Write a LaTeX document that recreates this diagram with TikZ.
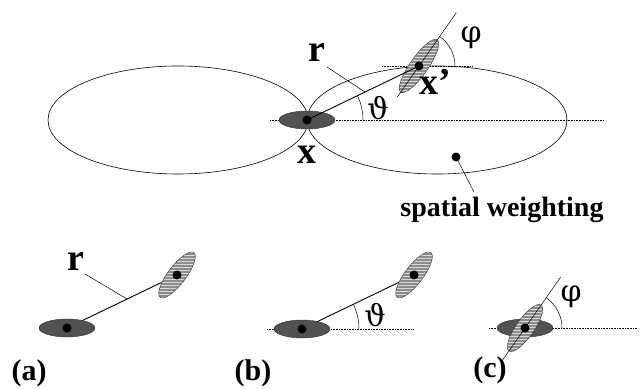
\documentclass[tikz,border=0pt]{standalone}
\usepackage{fontspec}
\setmainfont{Liberation Serif}
\newfontfamily\greekfont{DejaVu Serif}
\usetikzlibrary{patterns,calc}
\tikzset{
	lobe/.style = {draw, line width=0.6pt},
	base/.style = {densely dotted, line width=0.6pt},
	leader/.style = {line width=0.5pt},
	dark/.style = {fill=black!68, draw=black!80, line width=0.4pt},
	hatch/.style = {draw=black!80, line width=0.4pt, preaction={fill=black!45}, pattern=horizontal lines, pattern color=white!85!black},
	lbl/.style = {font=\fontsize{38}{40}\selectfont\bfseries, inner sep=0pt},
	ang/.style = {font=\fontsize{30}{32}\selectfont\greekfont, inner sep=0pt},
	panel/.style = {font=\fontsize{30}{32}\selectfont\bfseries, inner sep=0pt}
}
\newcommand{\blob}[1]{\fill (#1) circle (4.5);}
\begin{document}
\begin{tikzpicture}[x=1pt, y=1pt]
		\useasboundingbox (0,0) rectangle (644,388);
		\coordinate (x) at (307,268);
		\coordinate (xp) at (419,322);
		\coordinate (sw) at (456,231);
		\draw[lobe] (178,268) ellipse (130 and 54);
		\draw[lobe] (437,268) ellipse (130 and 54);
		\draw[base] (270,268) -- (603,268);
		\draw[base] (382,322) -- (473,322);
		\draw[dark] (x) ellipse (28 and 9);
		\draw[hatch, rotate around={55:(xp)}] (xp) ellipse (32 and 9);
		\draw[leader] ($(xp)+(235:38)$) -- ($(xp)+(55:65)$);
		\draw[line width=0.9pt] (x) -- (xp);
		\draw[leader] ($(x)+(0:56)$) arc (0:25.7:56);
		\draw[leader] ($(xp)+(0:36)$) arc (0:55:36);
		\blob{x}
		\blob{xp}
		\blob{sw}
		\node[lbl] (xl) at (307,233) {x};
		\node[lbl] (xpl) at (435,306) {x’};
		\node[lbl] (rl) at (317,335) {r};
		\node[ang] (thl) at (378,280) {ϑ};
		\node[ang] (phl) at (471,350) {φ};
		\coordinate (rs) at (327,321);
		\coordinate (re) at (365,296);
		\draw[leader] (rs) -- (re);
		\node[font=\fontsize{28}{30}\selectfont\bfseries, inner sep=0pt] (swl) at (502,178) {spatial weighting};
		\coordinate (swe) at (474,196);
		\draw[leader] (sw) -- (swe);
		% (a)
		\coordinate (a1) at (67,60);
		\coordinate (a2) at (177,113);
		\draw[line width=0.9pt] (a1) -- (a2);
		\draw[dark] (a1) ellipse (28 and 9);
		\draw[hatch, rotate around={53:(a2)}] (a2) ellipse (28 and 9);
		\blob{a1}
		\blob{a2}
		\node[lbl] (ral) at (76,126) {r};
		\coordinate (ras) at (85,114);
		\coordinate (rae) at (127,89);
		\draw[leader] (ras) -- (rae);
		\node[panel] (al) at (29,15) {(a)};
		% (b)
		\coordinate (b1) at (302,59);
		\coordinate (b2) at (414,113);
		\draw[base] (267,59) -- (414,59);
		\draw[line width=0.9pt] (b1) -- (b2);
		\draw[dark] (b1) ellipse (28 and 9);
		\draw[hatch, rotate around={53:(b2)}] (b2) ellipse (28 and 9);
		\blob{b1}
		\blob{b2}
		\draw[leader] ($(b1)+(0:57)$) arc (0:25.7:57);
		\node[ang] (tbl) at (375,73) {ϑ};
		\node[panel] (bl) at (253,15) {(b)};
		% (c)
		\coordinate (c1) at (525,60);
		\draw[base] (489,60) -- (637,60);
		\draw[dark] (c1) ellipse (28 and 9);
		\draw[hatch, rotate around={55:(c1)}] (c1) ellipse (28 and 9);
		\draw[leader] ($(c1)+(235:40)$) -- ($(c1)+(55:62)$);
		\draw[leader] ($(c1)+(0:37)$) arc (0:55:37);
		\blob{c1}
		\node[ang] (pcl) at (571,91) {φ};
		\node[panel] (cl) at (490,18) {(c)};
	\end{tikzpicture}
\end{document}
